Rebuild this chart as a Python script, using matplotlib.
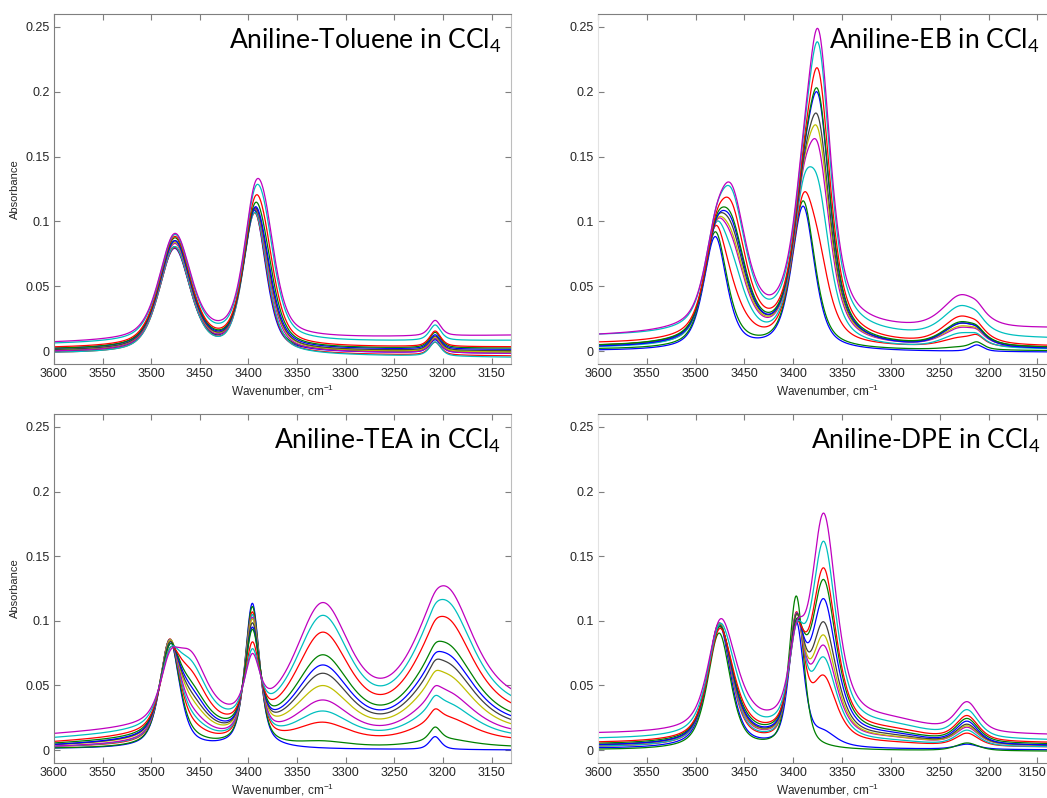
import numpy as np
import matplotlib
matplotlib.use("Agg")
import matplotlib.pyplot as plt
from matplotlib.transforms import ScaledTranslation

plt.rcParams["font.family"] = ["Liberation Sans", "DejaVu Sans"]
plt.rcParams["mathtext.fontset"] = "custom"
plt.rcParams["mathtext.rm"] = "Liberation Sans"
plt.rcParams["mathtext.it"] = "Liberation Sans:italic"

# ---------------------------------------------------------------------------
# Spectral data: each curve is a baseline plus a set of absorption bands.
# Band centres / half-widths (cm-1) and per-curve band heights.
# Curves are ordered by increasing amount of added base.
# ---------------------------------------------------------------------------
line_colors = ["b", "g", "r", "c", "m", "y", "k", "b", "g", "r", "c", "m"]
matlab_rgb = {"b": (0, 0, 1), "g": (0, 0.5, 0), "r": (1, 0, 0), "c": (0, 0.75, 0.75),
              "m": (0.75, 0, 0.75), "y": (0.75, 0.75, 0), "k": (0.25, 0.25, 0.25)}

# --- Aniline-Toluene ---
tol_centers = [3476, 3468, 3394, 3383, 3208]
tol_hwhm = [19, 20, 14, 15, 7]
tol_eta = [0.5, 0.5, 0.5, 0.5, 0.6]
tol_base_3600 = [-0.001, -0.001, -0.002, -0.002, -0.001, 0.000, 0.000, 0.001, 0.001, 0.002, 0.005, 0.006]
tol_base_3130 = [-0.002, -0.001, -0.004, -0.005, -0.002, -0.001, 0.000, 0.001, 0.002, 0.003, 0.008, 0.012]
tol_free_asym = [0.079, 0.080, 0.079, 0.080, 0.080, 0.080, 0.080, 0.079, 0.080, 0.080, 0.077, 0.076]
tol_cplx_asym = [0.000, 0.000, 0.002, 0.002, 0.003, 0.003, 0.004, 0.004, 0.005, 0.005, 0.006, 0.006]
tol_free_sym = [0.108, 0.106, 0.102, 0.100, 0.098, 0.095, 0.093, 0.090, 0.087, 0.084, 0.080, 0.078]
tol_cplx_sym = [0.000, 0.004, 0.008, 0.012, 0.016, 0.020, 0.022, 0.026, 0.034, 0.044, 0.054, 0.059]
tol_overtone = [0.010, 0.010, 0.010, 0.011, 0.011, 0.011, 0.011, 0.011, 0.012, 0.012, 0.012, 0.012]

# --- Aniline-EB ---
eb_centers = [3480, 3463, 3390, 3374, 3228, 3212]
eb_hwhm = [14, 18, 14, 15, 22, 8]
eb_eta = [0.6, 0.6, 0.6, 0.7, 0.5, 0.6]
eb_base_3600 = [0.000, 0.001, 0.003, 0.002, 0.003, 0.003, 0.003, 0.002, 0.003, 0.005, 0.011, 0.011]
eb_base_3130 = [-0.001, 0.000, 0.002, 0.001, 0.002, 0.002, 0.002, 0.001, 0.002, 0.003, 0.009, 0.017]
eb_free_asym = [0.087, 0.088, 0.080, 0.070, 0.062, 0.060, 0.058, 0.055, 0.055, 0.050, 0.045, 0.042]
eb_cplx_asym = [0.000, 0.003, 0.022, 0.045, 0.058, 0.062, 0.068, 0.074, 0.076, 0.086, 0.092, 0.094]
eb_free_sym = [0.111, 0.113, 0.096, 0.086, 0.079, 0.076, 0.073, 0.069, 0.069, 0.063, 0.057, 0.054]
eb_cplx_sym = [0.000, 0.002, 0.045, 0.091, 0.120, 0.133, 0.144, 0.164, 0.166, 0.183, 0.200, 0.208]
eb_hbond = [0.000, 0.002, 0.007, 0.011, 0.014, 0.015, 0.017, 0.018, 0.018, 0.021, 0.023, 0.025]
eb_overtone = [0.005, 0.005, 0.005, 0.004, 0.004, 0.004, 0.004, 0.004, 0.004, 0.004, 0.004, 0.004]

# --- Aniline-TEA ---
tea_centers = [3481, 3460, 3396, 3324, 3198, 3208]
tea_hwhm = [12, 20, 9, 32, 35, 7]
tea_eta = [0.6, 0.6, 0.6, 0.5, 0.7, 0.6]
tea_base_3600 = [0.001, 0.001, 0.002, 0.002, 0.002, 0.003, 0.003, 0.003, 0.004, 0.005, 0.008, 0.011]
tea_base_3130 = [0.000, 0.002, 0.006, 0.008, 0.010, 0.012, 0.014, 0.016, 0.018, 0.022, 0.026, 0.030]
tea_free_asym = [0.084, 0.082, 0.078, 0.075, 0.072, 0.068, 0.064, 0.060, 0.057, 0.048, 0.042, 0.034]
tea_cplx_asym = [0.000, 0.003, 0.008, 0.012, 0.016, 0.021, 0.025, 0.029, 0.032, 0.040, 0.045, 0.050]
tea_free_sym = [0.112, 0.108, 0.100, 0.096, 0.092, 0.088, 0.083, 0.078, 0.074, 0.060, 0.050, 0.042]
tea_hbond_1 = [0.000, 0.004, 0.015, 0.022, 0.029, 0.038, 0.046, 0.051, 0.057, 0.071, 0.080, 0.086]
tea_hbond_2 = [0.000, 0.006, 0.019, 0.028, 0.035, 0.046, 0.053, 0.058, 0.064, 0.080, 0.089, 0.096]
tea_overtone = [0.010, 0.010, 0.008, 0.008, 0.007, 0.006, 0.006, 0.005, 0.005, 0.004, 0.004, 0.003]

# --- Aniline-DPE ---
dpe_centers = [3476, 3466, 3397, 3369, 3300, 3222]
dpe_hwhm = [14, 20, 9, 16, 45, 14]
dpe_eta = [0.6, 0.6, 0.5, 0.75, 0.5, 0.6]
dpe_base_3600 = [0.001, 0.000, 0.002, 0.002, 0.003, 0.003, 0.003, 0.003, 0.004, 0.005, 0.008, 0.012]
dpe_base_3130 = [0.000, -0.001, 0.002, 0.002, 0.003, 0.003, 0.003, 0.003, 0.004, 0.005, 0.007, 0.011]
dpe_free_asym = [0.096, 0.090, 0.090, 0.088, 0.085, 0.083, 0.080, 0.077, 0.074, 0.068, 0.062, 0.056]
dpe_cplx_asym = [0.000, 0.000, 0.006, 0.008, 0.010, 0.012, 0.014, 0.016, 0.018, 0.022, 0.030, 0.036]
dpe_free_sym = [0.095, 0.118, 0.092, 0.088, 0.085, 0.082, 0.080, 0.072, 0.068, 0.062, 0.055, 0.048]
dpe_cplx_sym = [0.010, 0.000, 0.050, 0.064, 0.072, 0.080, 0.090, 0.108, 0.122, 0.130, 0.148, 0.166]
dpe_hbond = [0.000, 0.000, 0.002, 0.003, 0.004, 0.004, 0.005, 0.006, 0.006, 0.007, 0.008, 0.008]
dpe_band_3222 = [0.004, 0.006, 0.010, 0.012, 0.013, 0.014, 0.015, 0.017, 0.018, 0.019, 0.021, 0.023]

x_ticks = [3600, 3550, 3500, 3450, 3400, 3350, 3300, 3250, 3200, 3150]
y_ticks = [0, 0.05, 0.1, 0.15, 0.2, 0.25]
y_tick_labels = ["0", "0.05", "0.1", "0.15", "0.2", "0.25"]

panels = [
    dict(title="Aniline-Toluene in CCl$_\\mathregular{4}$", centers=tol_centers, hwhm=tol_hwhm, eta=tol_eta,
         b0=tol_base_3600, b1=tol_base_3130,
         amps=[tol_free_asym, tol_cplx_asym, tol_free_sym, tol_cplx_sym, tol_overtone]),
    dict(title="Aniline-EB in CCl$_\\mathregular{4}$", centers=eb_centers, hwhm=eb_hwhm, eta=eb_eta,
         b0=eb_base_3600, b1=eb_base_3130,
         amps=[eb_free_asym, eb_cplx_asym, eb_free_sym, eb_cplx_sym, eb_hbond, eb_overtone]),
    dict(title="Aniline-TEA in CCl$_\\mathregular{4}$", centers=tea_centers, hwhm=tea_hwhm, eta=tea_eta,
         b0=tea_base_3600, b1=tea_base_3130,
         amps=[tea_free_asym, tea_cplx_asym, tea_free_sym, tea_hbond_1, tea_hbond_2, tea_overtone]),
    dict(title="Aniline-DPE in CCl$_\\mathregular{4}$", centers=dpe_centers, hwhm=dpe_hwhm, eta=dpe_eta,
         b0=dpe_base_3600, b1=dpe_base_3130,
         amps=[dpe_free_asym, dpe_cplx_asym, dpe_free_sym, dpe_cplx_sym, dpe_hbond, dpe_band_3222]),
]


def band(x, c, w, eta):
    d = (x - c) / w
    return eta / (1.0 + d * d) + (1.0 - eta) * np.exp(-np.log(2.0) * d * d)


def spectrum(x, p, i):
    y = p["b0"][i] + (p["b1"][i] - p["b0"][i]) * (3600.0 - x) / 470.0
    for k, amp in enumerate(p["amps"]):
        y = y + amp[i] * band(x, p["centers"][k], p["hwhm"][k], p["eta"][k])
    return y


W, H = 1047, 798
fig = plt.figure(figsize=(W / 100, H / 100), dpi=100)

# axes rectangles in pixels: left, top, width, height
rects = [(54, 14, 457, 350), (598, 14, 459, 350), (54, 414, 457, 349), (598, 414, 459, 349)]
spine_col = "#7f7f7f"
wn = np.linspace(3600, 3130, 1200)

for n, (p, (l, t, w, h)) in enumerate(zip(panels, rects)):
    ax = fig.add_axes([l / W, 1 - (t + h) / H, w / W, h / H])
    for i, cname in enumerate(line_colors):
        ax.plot(wn, spectrum(wn, p, i), color=matlab_rgb[cname], lw=0.9)
    ax.set_xlim(3600, 3130)
    ax.set_ylim(-0.010, 0.260)
    ax.set_xticks(x_ticks)
    ax.set_yticks(y_ticks)
    ax.set_yticklabels(y_tick_labels)
    ax.tick_params(direction="in", top=True, right=True, length=4, width=0.8,
                   colors=spine_col, labelcolor="#262626", labelsize=9, pad=3)
    for s in ax.spines.values():
        s.set_color(spine_col)
        s.set_linewidth(0.8)
    if n % 2 == 1:
        ax.spines["left"].set_color("#e2e2e2")
        # keep the last wavenumber label inside the figure edge
        last = ax.get_xticklabels()[-1]
        last.set_transform(last.get_transform() + ScaledTranslation(-5 / 100, 0, fig.dpi_scale_trans))
    else:
        ax.spines["right"].set_color("#bdbdbd")
        ax.set_ylabel("Absorbance", fontsize=8, color="#262626", labelpad=4)
    ax.set_xlabel("Wavenumber, cm$^{\\mathregular{-1}}$", fontsize=8.5, color="#262626", labelpad=2)
    ax.text(0.978 if n % 2 == 0 else 0.963, 0.962, p["title"], transform=ax.transAxes,
            ha="right", va="top", fontsize=19, family="Lato", color="black")

fig.savefig("out.png", dpi=100)
